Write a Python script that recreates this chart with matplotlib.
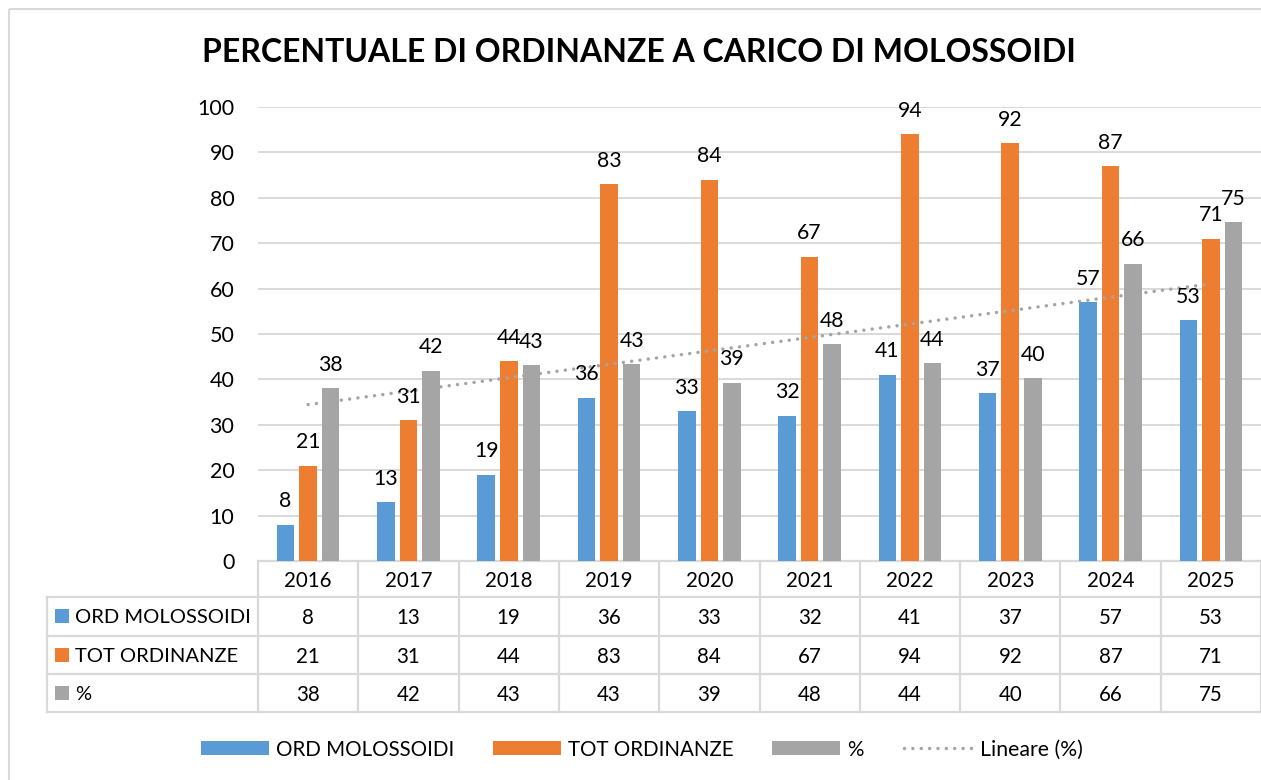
import numpy as np
import matplotlib
matplotlib.use("Agg")
import matplotlib.pyplot as plt
from matplotlib.patches import Rectangle
from matplotlib.lines import Line2D

# ---------------- data ----------------
years = ["2016", "2017", "2018", "2019", "2020", "2021", "2022", "2023", "2024", "2025"]
ord_molossoidi = [8, 13, 19, 36, 33, 32, 41, 37, 57, 53]
tot_ordinanze = [21, 31, 44, 83, 84, 67, 94, 92, 87, 71]
percent = [38.1, 41.9, 43.2, 43.4, 39.3, 47.8, 43.6, 40.2, 65.5, 74.6]
series_names = ["ORD MOLOSSOIDI", "TOT ORDINANZE", "%"]
trend_name = "Lineare (%)"
title = "PERCENTUALE DI ORDINANZE A CARICO DI MOLOSSOIDI"
yticks = [0, 10, 20, 30, 40, 50, 60, 70, 80, 90, 100]

# ---------------- style ----------------
colors = ["#5B9BD5", "#ED7D31", "#A5A5A5"]
grid_c = "#D9D9D9"
FONT = "Lato"
FS = 14.8
plt.rcParams["font.family"] = [FONT, "DejaVu Sans"]

W, H = 1261, 780
fig = plt.figure(figsize=(W / 100, H / 100), dpi=100)

# overlay axes in pixel coordinates (y downwards)
ov = fig.add_axes([0, 0, 1, 1])
ov.set_xlim(0, W)
ov.set_ylim(H, 0)
ov.axis("off")

# main plot area
x0, x1, ytop, ybot = 258, 1261, 107, 561
ax = fig.add_axes([x0 / W, (H - ybot) / H, (x1 - x0) / W, (ybot - ytop) / H])
ax.patch.set_visible(False)
n = len(years)
x = np.arange(n)
ax.set_xlim(-0.5, n - 0.5)
ax.set_ylim(0, 100)
for s in ax.spines.values():
    s.set_visible(False)
ax.set_yticks(yticks)
ax.set_yticklabels([str(v) for v in yticks], fontsize=FS + 0.7, color="#000000")
ax.tick_params(axis="y", length=0, pad=17)
ax.set_xticks([])
for v in yticks[1:]:
    ax.axhline(v, color=grid_c, lw=1.4, zorder=0)

bw = 0.175
offs = [-0.225, 0.0, 0.225]
data = [ord_molossoidi, tot_ordinanze, percent]
for k, (vals, c, off) in enumerate(zip(data, colors, offs)):
    ax.bar(x + off, vals, width=bw, color=c, zorder=2, edgecolor="none")
    for xi, v in zip(x + off, vals):
        ax.annotate(f"{v:.0f}", (xi, v), xytext=(0, 12.5), textcoords="offset points",
                    ha="center", va="baseline", fontsize=FS + 0.5, color="#000000", zorder=4)

# linear trendline of percent
coef = np.polyfit(x + 1, percent, 1)
ax.plot(x, np.polyval(coef, x + 1), color="#A5A5A5", lw=2.5,
        linestyle=(0, (0.01, 2.4)), dash_capstyle="round", zorder=3)

# ---------------- title ----------------
ov.text(638.5, 53, title, ha="center", va="center", fontsize=23, fontweight="bold",
        color="#000000")

# ---------------- outer border ----------------
ov.add_patch(Rectangle((8.5, 8.5), W + 10, H + 10, fill=False, edgecolor=grid_c, lw=1.5))

# ---------------- data table ----------------
def px(xd):
    disp = ax.transData.transform((xd, 0))
    return ov.transData.inverted().transform(disp)[0]

rows_y = [561, 597, 635.5, 674, 712]
tx_left = 47
col_edges = [px(i - 0.5) for i in range(n + 1)]
col_centers = [px(i) for i in range(n)]
lc = dict(color=grid_c, lw=1.6, zorder=1)
ov.plot([col_edges[0], col_edges[-1]], [rows_y[0], rows_y[0]], **lc)
for yy in rows_y[1:]:
    ov.plot([tx_left, col_edges[-1]], [yy, yy], **lc)
ov.plot([tx_left, tx_left], [rows_y[1], rows_y[-1]], **lc)
for xe in col_edges:
    ov.plot([xe, xe], [rows_y[0], rows_y[-1]], **lc)

for xc, yr in zip(col_centers, years):
    ov.text(xc, (rows_y[0] + rows_y[1]) / 2, yr, ha="center", va="center_baseline",
            fontsize=FS, color="#000000")
for r, (name, vals, c) in enumerate(zip(series_names, data, colors)):
    yc = (rows_y[r + 1] + rows_y[r + 2]) / 2
    ov.add_patch(Rectangle((55, yc - 7), 14, 14, color=c, lw=0))
    ov.text(75, yc, name, ha="left", va="center_baseline", fontsize=FS - 0.3, color="#000000")
    for xc, v in zip(col_centers, vals):
        ov.text(xc, yc, f"{v:.0f}", ha="center", va="center_baseline", fontsize=FS,
                color="#000000")

# ---------------- legend ----------------
ly = 748
leg_items = [(201, colors[0], series_names[0]), (493, colors[1], series_names[1]),
             (772, colors[2], series_names[2])]
for lx, c, name in leg_items:
    ov.add_patch(Rectangle((lx, ly - 7), 68, 14, color=c, lw=0))
    ov.text(lx + 75, ly, name, ha="left", va="center_baseline", fontsize=FS, color="#000000")
ov.add_line(Line2D([904, 971], [ly, ly], color="#A5A5A5", lw=2.5,
                   linestyle=(0, (0.01, 2.4)), dash_capstyle="round"))
ov.text(980, ly, trend_name, ha="left", va="center_baseline", fontsize=FS + 0.5, color="#000000")

fig.savefig("out.png", dpi=100)
